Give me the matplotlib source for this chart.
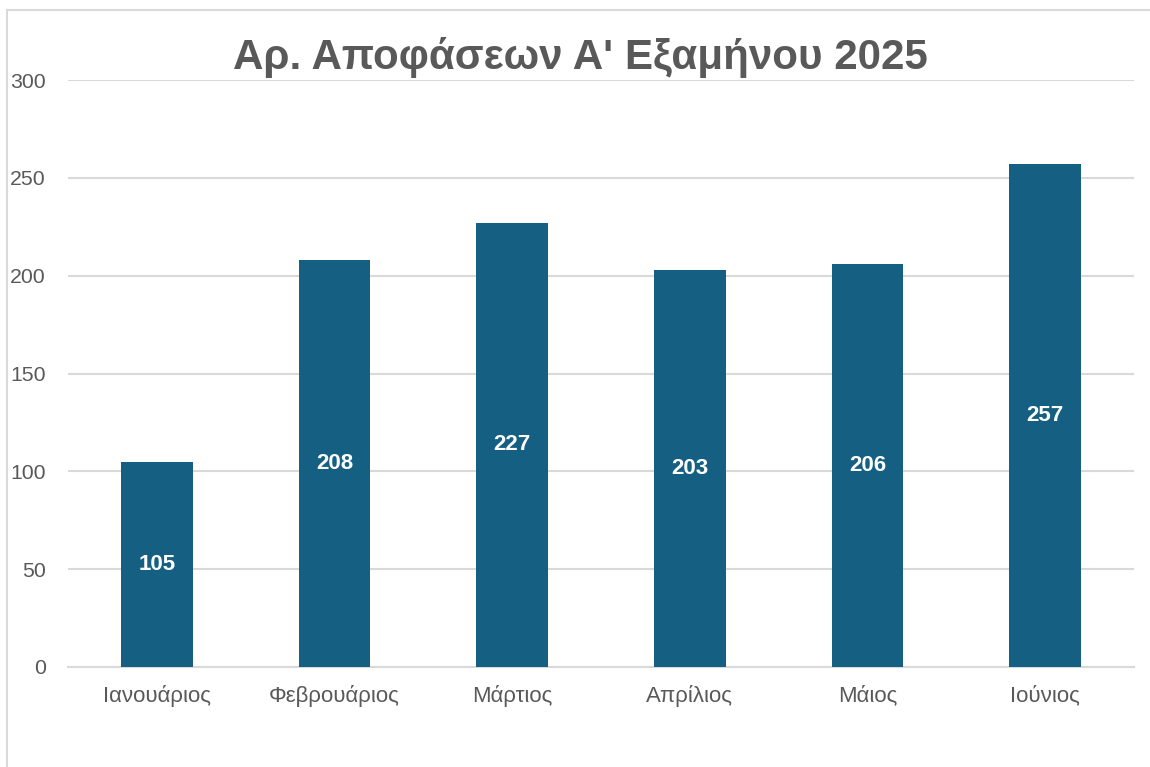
import matplotlib
matplotlib.use("Agg")
import matplotlib.pyplot as plt
from matplotlib.patches import Rectangle

months = ["Ιανουάριος", "Φεβρουάριος", "Μάρτιος", "Απρίλιος", "Μάιος", "Ιούνιος"]
values = [105, 208, 227, 203, 206, 257]
yticks = [0, 50, 100, 150, 200, 250, 300]
title = "Αρ. Αποφάσεων Α' Εξαμήνου 2025"

plt.rcParams['font.family'] = ['Liberation Sans', 'DejaVu Sans']

fig = plt.figure(figsize=(11.5, 7.67), dpi=100)
ax = fig.add_axes([68/1150, 100/767, 1066/1150, 587/767])

x = list(range(len(months)))
bars = ax.bar(x, values, width=0.405, color="#156082", zorder=3)
for xi, v in zip(x, values):
    ax.text(xi, v/2, str(v), ha="center", va="center", color="white",
            fontsize=16, fontweight="bold", zorder=4)

ax.set_xlim(-0.5, len(months)-0.5)
ax.set_ylim(0, 300)
ax.set_yticks(yticks)
ax.set_xticks(x)
ax.set_xticklabels(months, fontsize=16)
ax.tick_params(axis="both", length=0, colors="#595959")
ax.tick_params(axis="y", pad=16, labelsize=15.3)
ax.tick_params(axis="x", pad=13)
ax.grid(axis="y", color="#D9D9D9", linewidth=1.5, zorder=0)
for s in ["top", "right", "left"]:
    ax.spines[s].set_visible(False)
ax.spines["bottom"].set_color("#D9D9D9")
ax.spines["bottom"].set_linewidth(1.5)

fig.text(580/1150, 1-58/767, title, ha="center", va="center",
         fontsize=30.3, fontweight="bold", color="#595959")

fig.patches.append(Rectangle((7/1150, -0.1), 1.2, 1.1 - 10/767,
                             transform=fig.transFigure, fill=False,
                             edgecolor="#D9D9D9", linewidth=1.5))

fig.savefig("out.png", dpi=100)
